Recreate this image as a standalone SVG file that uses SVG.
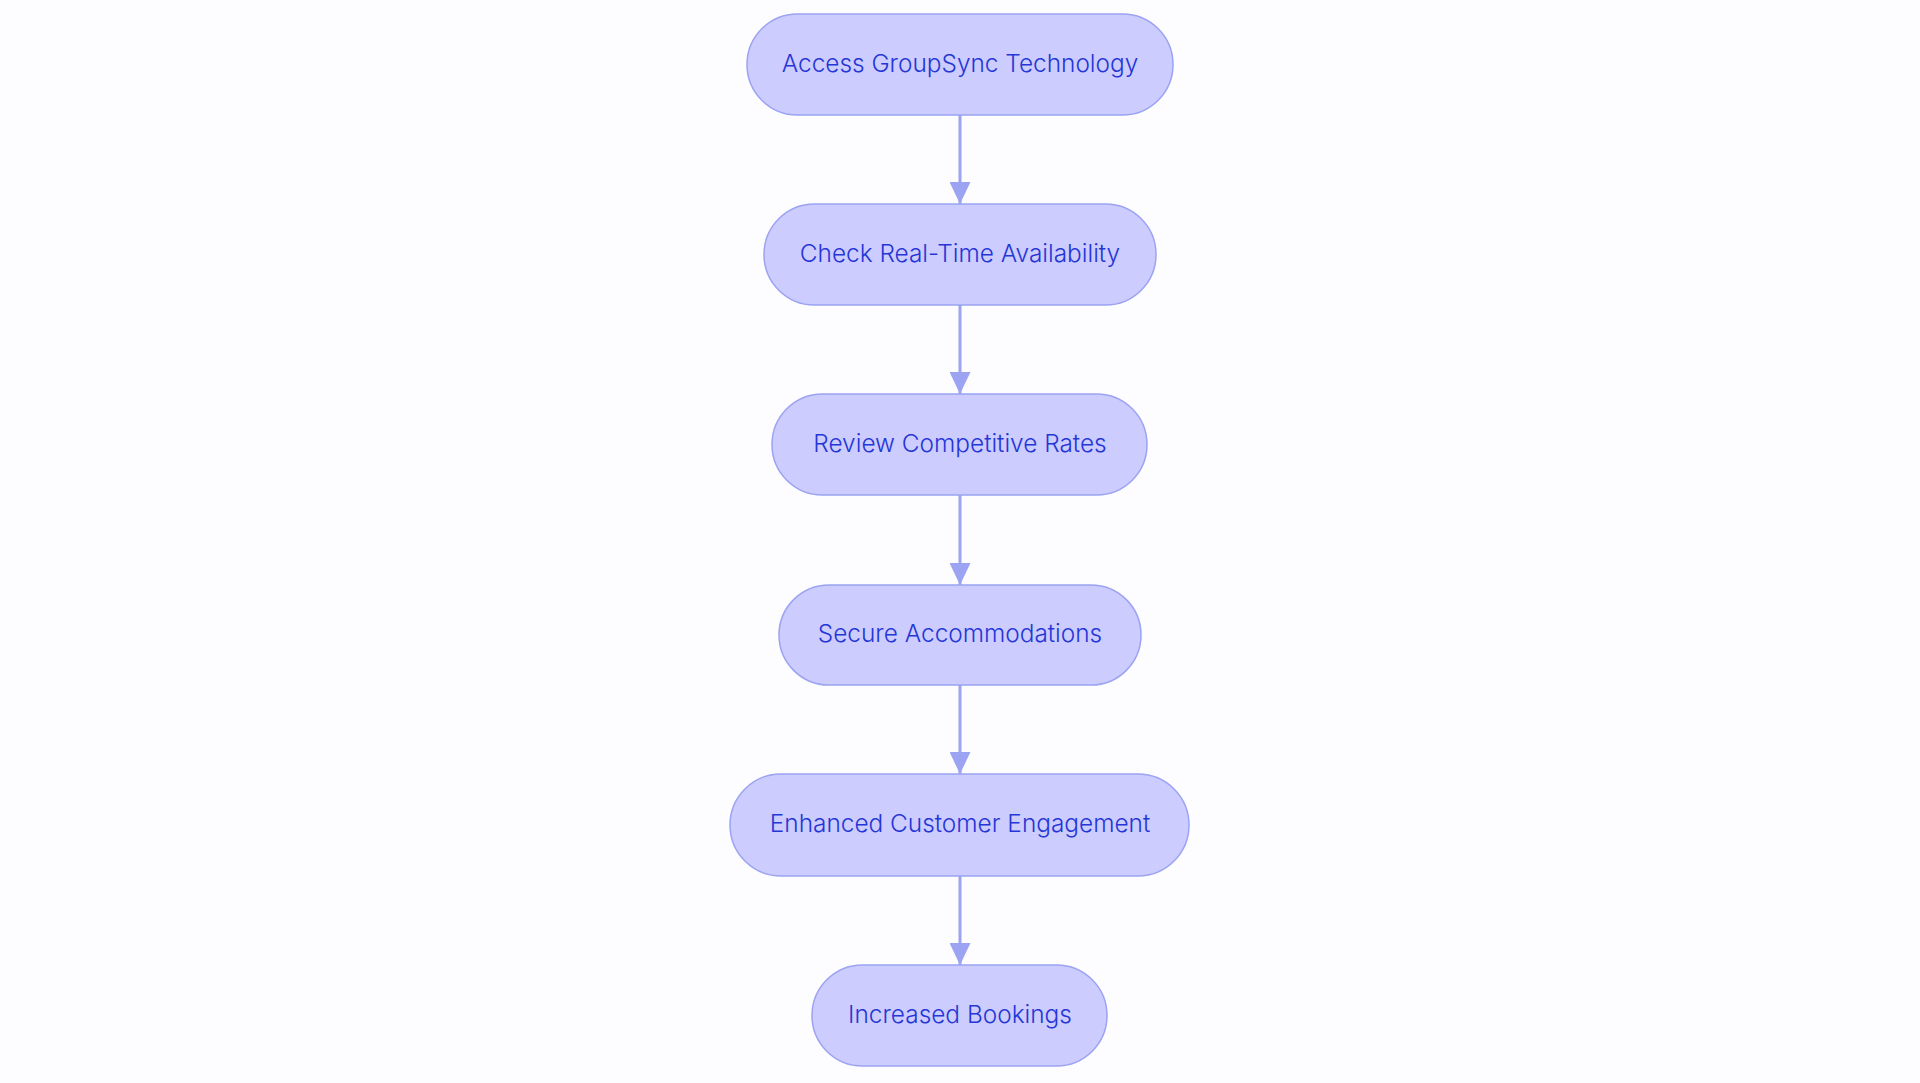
<svg xmlns="http://www.w3.org/2000/svg" width="1920" height="1083" viewBox="0 0 1920 1083">
<defs>
<style>
.node rect{fill:#ccccff;stroke:#9ba3f2;stroke-width:1.5}
.node text{font-family:Inter,"Noto Sans",sans-serif;font-size:24.4px;font-weight:300;fill:#2536d6;text-anchor:middle;dominant-baseline:central}
.edge{stroke:#9ba3f2;stroke-width:3;fill:none;marker-end:url(#arr)}
</style>
<marker id="arr" viewBox="0 0 22 21" refX="22" refY="10.5" markerWidth="22" markerHeight="21" markerUnits="userSpaceOnUse" orient="auto">
<path d="M0,0 L22,10.5 L0,21 z" fill="#9ba3f2"/>
</marker>
</defs>
<rect width="1920" height="1083" fill="#fdfcfe"/>
<g id="connectors">
<path class="edge" d="M960,115 V204"/>
<path class="edge" d="M960,305 V394"/>
<path class="edge" d="M960,495 V585"/>
<path class="edge" d="M960,685 V774"/>
<path class="edge" d="M960,876 V965"/>
</g>
<g id="n1" class="node"><rect x="747" y="14" width="426" height="101" rx="50.5"/><text x="960" y="63">Access GroupSync Technology</text></g>
<g id="n2" class="node"><rect x="764" y="204" width="392" height="101" rx="50.5"/><text x="960" y="253">Check Real-Time Availability</text></g>
<g id="n3" class="node"><rect x="772" y="394" width="375" height="101" rx="50.5"/><text x="960" y="443">Review Competitive Rates</text></g>
<g id="n4" class="node"><rect x="779" y="585" width="362" height="100" rx="50"/><text x="960" y="633">Secure Accommodations</text></g>
<g id="n5" class="node"><rect x="730" y="774" width="459" height="102" rx="51"/><text x="960" y="823">Enhanced Customer Engagement</text></g>
<g id="n6" class="node"><rect x="812" y="965" width="295" height="101" rx="50.5"/><text x="960" y="1014">Increased Bookings</text></g>
</svg>
